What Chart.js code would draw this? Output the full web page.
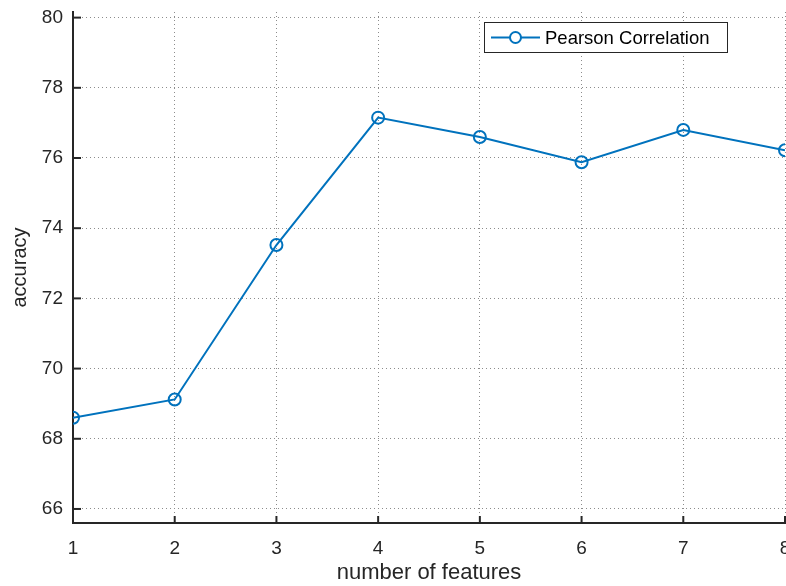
<!DOCTYPE html>
<html>
<head>
<meta charset="utf-8">
<script src="https://cdn.jsdelivr.net/npm/chart.js@4"></script>
<style>
  html, body { margin: 0; padding: 0; background: #fff; }
  #wrap { width: 786px; height: 586px; }
</style>
</head>
<body>
<div id="wrap"><canvas id="chart" width="786" height="586"></canvas></div>
<script>
const featureCounts = [1, 2, 3, 4, 5, 6, 7, 8];
const accuracyValues = [68.6, 69.12, 73.52, 77.15, 76.6, 75.88, 76.8, 76.22];
const yTickValues = [66, 68, 70, 72, 74, 76, 78, 80];
const seriesLabel = 'Pearson Correlation';
const lineColor = '#0072BD';
const axisColor = '#262626';

// MATLAB style inward ticks + boxed legend inside the plot
const matlabBits = {
    id: 'matlabBits',
    afterDatasetsDraw(chart) {
        const { ctx, chartArea, scales: { x, y } } = chart;
        ctx.save();
        ctx.strokeStyle = axisColor;
        ctx.lineWidth = 2;
        x.ticks.forEach(t => {
            const px = x.getPixelForValue(t.value);
            ctx.beginPath();
            ctx.moveTo(px, chartArea.bottom);
            ctx.lineTo(px, chartArea.bottom - 7);
            ctx.stroke();
        });
        y.ticks.forEach(t => {
            const py = y.getPixelForValue(t.value);
            ctx.beginPath();
            ctx.moveTo(chartArea.left, py);
            ctx.lineTo(chartArea.left + 8, py);
            ctx.stroke();
        });

        // legend
        const bx = 484, by = 22, bw = 243, bh = 30;
        ctx.fillStyle = '#fff';
        ctx.fillRect(bx, by, bw, bh);
        ctx.lineWidth = 1;
        ctx.strokeStyle = axisColor;
        ctx.strokeRect(bx + 0.5, by + 0.5, bw, bh);
        const cy = by + bh / 2 + 0.5;
        ctx.strokeStyle = lineColor;
        ctx.lineWidth = 2;
        ctx.beginPath();
        ctx.moveTo(491, cy);
        ctx.lineTo(540, cy);
        ctx.stroke();
        ctx.beginPath();
        ctx.arc(515.5, cy, 5.5, 0, Math.PI * 2);
        ctx.fillStyle = '#fff';
        ctx.fill();
        ctx.stroke();
        ctx.fillStyle = '#000';
        ctx.font = '18.5px "Liberation Sans", Arial, sans-serif';
        ctx.textBaseline = 'middle';
        ctx.textAlign = 'left';
        ctx.fillText(chart.data.datasets[0].label, 545, cy + 1);
        ctx.restore();
    }
};

const ctx = document.getElementById('chart');
new Chart(ctx, {
    type: 'line',
    data: {
        datasets: [{
            label: seriesLabel,
            data: featureCounts.map((f, i) => ({ x: f, y: accuracyValues[i] })),
            borderColor: lineColor,
            borderWidth: 2,
            pointRadius: 6,
            pointBorderWidth: 2,
            pointBackgroundColor: 'rgba(0,0,0,0)',
            pointBorderColor: lineColor,
            tension: 0
        }]
    },
    options: {
        responsive: false,
        animation: false,
        layout: { autoPadding: false, padding: { left: 0, right: 1, top: 12, bottom: 0 } },
        plugins: {
            legend: { display: false },
            tooltip: { enabled: false }
        },
        scales: {
            x: {
                type: 'linear',
                min: 1,
                max: 8,
                afterBuildTicks: (scale) => {
                    scale.ticks = featureCounts.map(v => ({ value: v }));
                },
                afterFit: (scale) => {
                    scale.height = 63;
                    scale.paddingLeft = 0;
                    scale.paddingRight = 0;
                    scale.paddingTop = 0;
                    scale.paddingBottom = 0;
                },
                grid: { color: '#8c8c8c', lineWidth: 1, drawTicks: false },
                border: { color: axisColor, width: 2, dash: [1, 3] },
                ticks: {
                    color: axisColor,
                    padding: 14,
                    maxRotation: 0,
                    autoSkip: false,
                    font: { family: '"Liberation Sans", Arial, sans-serif', size: 19 }
                },
                title: {
                    display: true,
                    text: 'number of features',
                    color: axisColor,
                    padding: { top: 0, bottom: 0 },
                    font: { family: '"Liberation Sans", Arial, sans-serif', size: 22 }
                }
            },
            y: {
                min: 65.6,
                max: 80.16,
                afterBuildTicks: (scale) => {
                    scale.ticks = yTickValues.map(v => ({ value: v }));
                },
                afterFit: (scale) => {
                    scale.width = 73;
                    scale.paddingLeft = 0;
                    scale.paddingRight = 0;
                    scale.paddingTop = 0;
                    scale.paddingBottom = 0;
                },
                grid: { color: '#8c8c8c', lineWidth: 1, drawTicks: false },
                border: { color: axisColor, width: 2, dash: [1, 3] },
                ticks: {
                    color: axisColor,
                    padding: 10,
                    font: { family: '"Liberation Sans", Arial, sans-serif', size: 19 }
                },
                title: {
                    display: true,
                    text: 'accuracy',
                    color: axisColor,
                    padding: { top: 8, bottom: 0 },
                    font: { family: '"Liberation Sans", Arial, sans-serif', size: 20 }
                }
            }
        }
    },
    plugins: [matlabBits]
});
</script>
</body>
</html>
